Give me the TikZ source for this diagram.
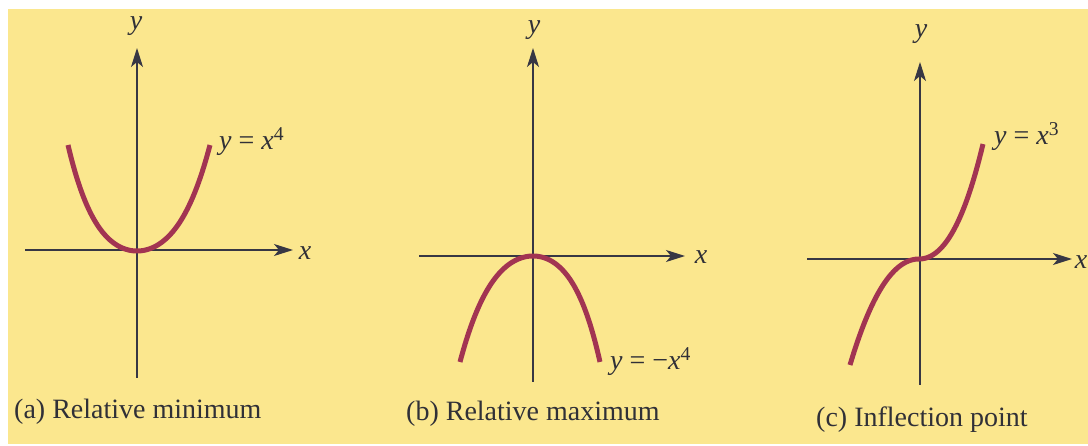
\documentclass[tikz,border=0pt]{standalone}
\usepackage{fontspec}
\setmainfont{Liberation Serif}
\usetikzlibrary{arrows.meta}
\definecolor{paper}{RGB}{251,231,142}
\definecolor{curvered}{RGB}{162,52,82}
\definecolor{axisgray}{RGB}{55,55,68}
\definecolor{inkgray}{RGB}{48,48,55}
\begin{document}
\begin{tikzpicture}[x=1pt,y=-1pt,
  axisline/.style={draw=axisgray,line width=1.2pt,-{Stealth[length=19pt,width=12pt,inset=5pt]}},
  graphline/.style={draw=curvered,line width=5pt,line cap=butt},
  axislabel/.style={text=inkgray,font=\fontsize{28}{30}\selectfont\itshape,inner sep=0pt},
  funclabel/.style={text=inkgray,font=\fontsize{28}{30}\selectfont,inner sep=0pt,anchor=west},
  caption/.style={text=inkgray,font=\fontsize{28}{32}\selectfont,inner sep=0pt,anchor=west}]
\useasboundingbox (0,0) rectangle (1088,446);
\fill[paper] (8,9) rectangle (1088,444);
% (a) relative minimum
\coordinate (aS) at (137,378);
\coordinate (aN) at (137,48);
\coordinate (aW) at (25,250);
\coordinate (aE) at (293,250);
\draw[axisline] (aS) -- (aN);
\draw[axisline] (aW) -- (aE);
\draw[graphline] plot[domain=-1:1,samples=80,smooth] ({137+71*\x+2*\x*\x},{251-106*(0.65*(\x)^2+0.35*(\x)^4)});
\node[axislabel] (ya) at (136,26) {y}; %label
\node[axislabel] (xa) at (305,253) {x}; %label
\node[funclabel] (fa) at (219,142) {\textit{y} = \textit{x}\textsuperscript{4}}; %label
\node[caption] (capa) at (14,412) {(a) Relative minimum}; %label
% (b) relative maximum
\coordinate (bS) at (533,382);
\coordinate (bN) at (533,48);
\coordinate (bW) at (419,256);
\coordinate (bE) at (685,256);
\draw[axisline] (bS) -- (bN);
\draw[axisline] (bW) -- (bE);
\draw[graphline] plot[domain=-1:1,samples=80,smooth] ({533+70*\x-3*\x*\x},{256+106*(0.65*(\x)^2+0.35*(\x)^4)});
\node[axislabel] (yb) at (534,30) {y}; %label
\node[axislabel] (xb) at (701,257) {x}; %label
\node[funclabel] (fb) at (610,362) {\textit{y} = \textminus\textit{x}\textsuperscript{4}}; %label
\node[caption] (capb) at (406,414) {(b) Relative maximum}; %label
% (c) inflection point
\coordinate (cS) at (920,385);
\coordinate (cN) at (920,62);
\coordinate (cW) at (807,259);
\coordinate (cE) at (1072,259);
\draw[axisline] (cS) -- (cN);
\draw[axisline] (cW) -- (cE);
\draw[graphline] plot[domain=-1:1,samples=80,smooth] ({919+66.5*\x-2.5*\x*\x},{259-110.5*(0.75*\x*abs(\x)+0.25*(\x)^3)-4.5*\x*\x});
\node[axislabel] (yc) at (921,34) {y}; %label
\node[axislabel] (xc) at (1081,262) {x}; %label
\node[funclabel] (fc) at (994,137) {\textit{y} = \textit{x}\textsuperscript{3}}; %label
\node[caption] (capc) at (816,420) {(c) Inflection point}; %label
\end{tikzpicture}
\end{document}
